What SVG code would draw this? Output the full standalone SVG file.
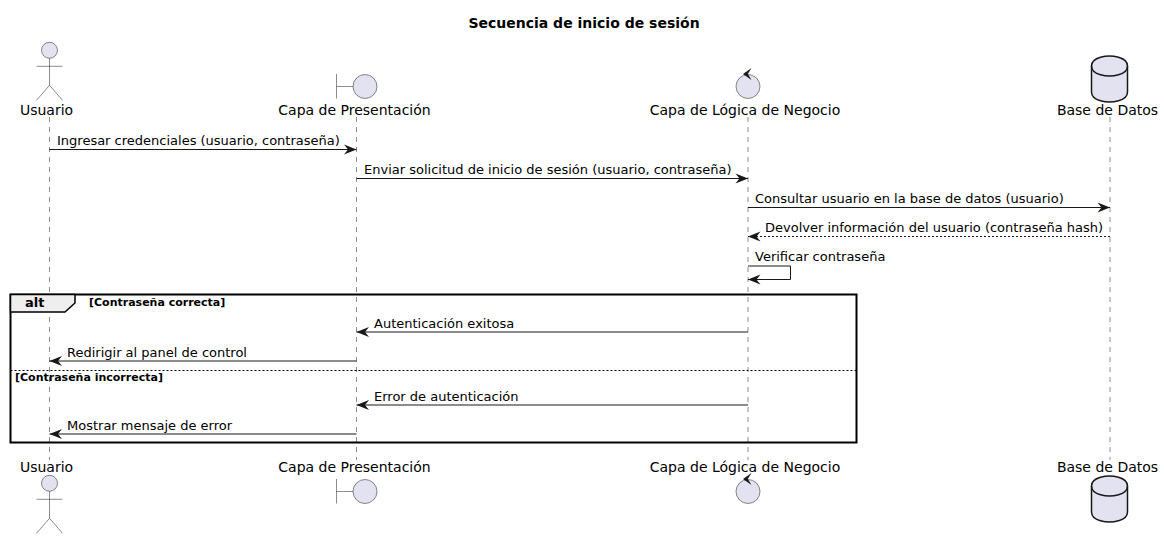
<svg xmlns="http://www.w3.org/2000/svg" width="1164" height="539" viewBox="0 0 1164 539">
<style>
text{font-family:"DejaVu Sans",sans-serif;fill:#000}
.p{font-size:14px;text-anchor:middle}
.m{font-size:13px}
.t{font-size:14px;font-weight:bold;text-anchor:middle}
.g{font-size:11px;font-weight:bold}
.a{font-size:13px;font-weight:bold}
.life{stroke:#181818;stroke-width:.5;stroke-dasharray:5,5;fill:none}
.shape{fill:#E2E2F0;stroke:#181818;stroke-width:.5}
.line{fill:none;stroke:#181818;stroke-width:.5}
.db{fill:#E2E2F0;stroke:#181818;stroke-width:1.5}
.msg{fill:none;stroke:#181818;stroke-width:1;marker-end:url(#ah)}
.ret{stroke-dasharray:2,2}
</style>
<defs>
<marker id="ah" markerUnits="userSpaceOnUse" markerWidth="15" markerHeight="12" refX="13" refY="6" orient="auto"><polygon points="13,6 0.5,1 4.5,6 0.5,11" fill="#181818"/></marker>
<g id="actor"><circle class="shape" cx="49.5" cy="0" r="8"/><path class="line" d="M49.5,8V35M36.5,16H62.5M49.5,35L36.5,50M49.5,35L62.5,50"/></g>
<g id="boundary"><path class="line" d="M336.5,-12.5V12M336.5,0H353"/><circle class="shape" cx="365" cy="0" r="12"/></g>
<g id="control"><circle class="shape" cx="748" cy="0" r="12"/><polygon points="743,-12.5 751.5,-18.5 747.8,-12.5 751.5,-6.5" fill="#181818"/></g>
<g id="database"><path class="db" d="M1091.5,10C1091.5,0 1109.5,0 1109.5,0C1109.5,0 1127.5,0 1127.5,10V36C1127.5,46 1109.5,46 1109.5,46C1109.5,46 1091.5,46 1091.5,36Z"/><path class="db" style="fill:none" d="M1091.5,10C1091.5,20 1109.5,20 1109.5,20C1109.5,20 1127.5,20 1127.5,10"/></g>
</defs>
<text class="t" x="584" y="28">Secuencia de inicio de sesión</text>
<g id="lifelines">
<path class="life" d="M49.5,117V460"/><path class="life" d="M356.5,117V460"/><path class="life" d="M748,117V460"/><path class="life" d="M1110,117V460"/>
</g>
<g id="usuario"><use href="#actor" y="50.3"/><text class="p" x="46.5" y="115">Usuario</text><text class="p" x="46.5" y="472">Usuario</text><use href="#actor" y="483.3"/></g>
<g id="presentacion"><use href="#boundary" y="86.5"/><text class="p" x="354.5" y="115">Capa de Presentación</text><text class="p" x="354.5" y="472">Capa de Presentación</text><use href="#boundary" y="491.5"/></g>
<g id="logica"><use href="#control" y="86.5"/><text class="p" x="745" y="115">Capa de Lógica de Negocio</text><text class="p" x="745" y="472">Capa de Lógica de Negocio</text><use href="#control" y="491.5"/></g>
<g id="datos"><use href="#database" y="56"/><text class="p" x="1107.5" y="115">Base de Datos</text><text class="p" x="1107.5" y="472">Base de Datos</text><use href="#database" y="476"/></g>
<g id="frame">
<rect x="10.5" y="294.5" width="846" height="148" fill="none" stroke="#000" stroke-width="2"/>
<path d="M10.5,294.5H75V303L65,312H10.5Z" fill="#EEEEEE" stroke="#000" stroke-width="1.5"/>
<text class="a" x="25" y="307">alt</text>
<text class="g" x="89" y="306">[Contraseña correcta]</text>
<path d="M10.5,370.5H856.5" stroke="#000" stroke-width="1" stroke-dasharray="2,2"/>
<text class="g" x="15" y="381">[Contraseña incorrecta]</text>
</g>
<g id="connectors">
<path class="msg" d="M49.5,149.5H356.5"/>
<path class="msg" d="M356.5,178.5H748"/>
<path class="msg" d="M748,207.5H1110"/>
<path class="msg ret" d="M1110,236.5H748"/>
<path class="msg" d="M748,266H790.5V279.5H748"/>
<path class="msg" d="M748,332H356.5"/>
<path class="msg" d="M356.5,361H49.5"/>
<path class="msg" d="M748,405H356.5"/>
<path class="msg" d="M356.5,434H49.5"/>
</g>
<g id="labels">
<text class="m" x="57" y="145">Ingresar credenciales (usuario, contraseña)</text>
<text class="m" x="364" y="174">Enviar solicitud de inicio de sesión (usuario, contraseña)</text>
<text class="m" x="755" y="203">Consultar usuario en la base de datos (usuario)</text>
<text class="m" x="765" y="232">Devolver información del usuario (contraseña hash)</text>
<text class="m" x="755" y="261">Verificar contraseña</text>
<text class="m" x="374" y="328">Autenticación exitosa</text>
<text class="m" x="67" y="357">Redirigir al panel de control</text>
<text class="m" x="374" y="401">Error de autenticación</text>
<text class="m" x="67" y="430">Mostrar mensaje de error</text>
</g>
</svg>
